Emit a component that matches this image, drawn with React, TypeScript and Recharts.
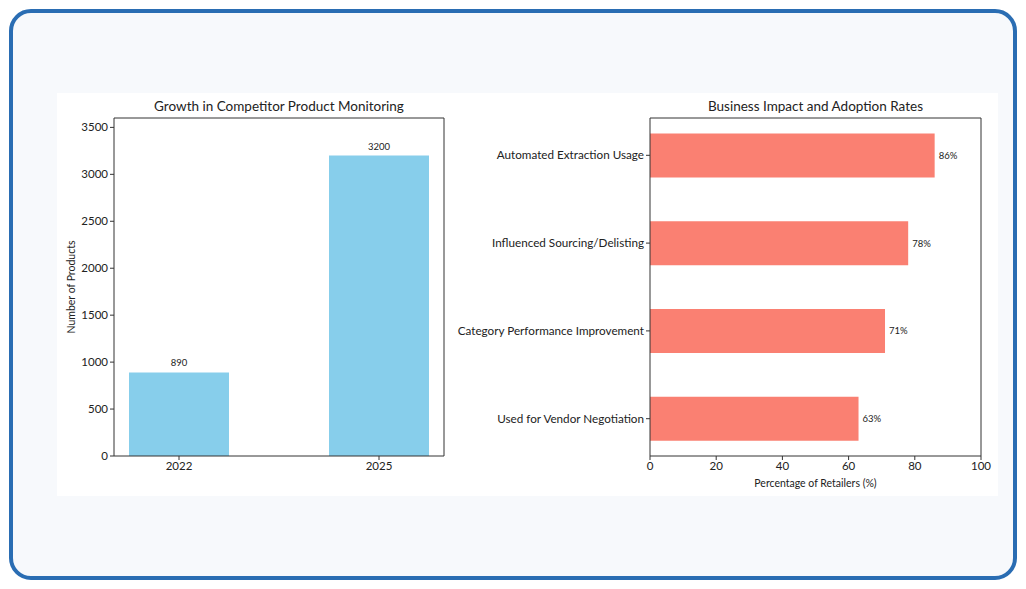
import { Bar, BarChart, LabelList, XAxis, YAxis } from "recharts";

const years = ["2022", "2025"];
const productCounts = [890, 3200];
const productTicks = [0, 500, 1000, 1500, 2000, 2500, 3000, 3500];

const impactCategories = [
  "Automated Extraction Usage",
  "Influenced Sourcing/Delisting",
  "Category Performance Improvement",
  "Used for Vendor Negotiation"
];
const impactRates = [86, 78, 71, 63];
const percentTicks = [0, 20, 40, 60, 80, 100];

const FONT = "Lato, 'Noto Sans', sans-serif";
const AXIS = "#333333";
const TEXT = "#222222";

const growthData = years.map((year, i) => ({ idx: i, year, count: productCounts[i] }));
const impactData = impactCategories.map((name, i) => ({ idx: i, name, rate: impactRates[i] }));

const tickStyle = { fontSize: 11.5, fill: TEXT, fontFamily: FONT };

// plain one-line tick so long category names don't wrap
const CategoryTick = (props: any) => {
  const { x, y, payload } = props;
  return (
    <text x={x} y={y} dy={4} textAnchor="end" fontSize={11.7} fill={TEXT} fontFamily={FONT}>
      {impactCategories[payload.value] ?? ""}
    </text>
  );
};

export default function App() {
  return (
    <div style={{ position: "absolute", left: 0, top: 0, width: 1026, height: 589, background: "#ffffff", fontFamily: FONT }}>
      <div
        style={{
          position: "absolute",
          left: 9,
          top: 9,
          width: 1008,
          height: 571,
          boxSizing: "border-box",
          border: "4px solid #2a6db3",
          borderRadius: 22,
          background: "#f7f9fc"
        }}
      />
      <div style={{ position: "absolute", left: 57, top: 93, width: 941, height: 403, background: "#ffffff" }} />

      <div style={{ position: "absolute", left: 114, width: 330, top: 98, textAlign: "center", fontSize: 13.5, color: TEXT }}>
        Growth in Competitor Product Monitoring
      </div>
      <div style={{ position: "absolute", left: 650, width: 331, top: 98, textAlign: "center", fontSize: 13.5, color: TEXT }}>
        Business Impact and Adoption Rates
      </div>

      <div style={{ position: "absolute", left: 57, top: 93 }}>
        <BarChart width={400} height={403} data={growthData} margin={{ top: 24, right: 12, bottom: 10, left: 0 }}>
          <XAxis
            dataKey="idx"
            type="number"
            domain={[-0.325, 1.325]}
            ticks={[0, 1]}
            tickFormatter={(v: number) => years[v] ?? ""}
            tick={tickStyle}
            stroke={AXIS}
            tickSize={4}
            height={30}
            allowDataOverflow
          />
          <XAxis xAxisId="top" orientation="top" type="number" domain={[0, 1]} tick={false} tickLine={false} stroke={AXIS} height={1} />
          <YAxis
            type="number"
            domain={[0, 3600]}
            ticks={productTicks}
            tick={tickStyle}
            stroke={AXIS}
            tickSize={4}
            width={57}
            label={{ value: "Number of Products", angle: -90, position: "insideLeft", offset: 14, style: { fontSize: 10.5, fill: TEXT, fontFamily: FONT, textAnchor: "middle" } }}
          />
          <YAxis yAxisId="right" orientation="right" type="number" domain={[0, 1]} tick={false} tickLine={false} stroke={AXIS} width={1} />
          <Bar dataKey="count" fill="#87ceeb" barSize={100} isAnimationActive={false}>
            <LabelList dataKey="count" position="top" offset={6} style={{ fontSize: 9.5, fill: TEXT, fontFamily: FONT }} />
          </Bar>
        </BarChart>
      </div>

      <div style={{ position: "absolute", left: 450, top: 93 }}>
        <BarChart width={548} height={403} data={impactData} layout="vertical" margin={{ top: 24, right: 16, bottom: 3, left: 0 }}>
          <XAxis
            type="number"
            dataKey="rate"
            domain={[0, 100]}
            ticks={percentTicks}
            tick={tickStyle}
            stroke={AXIS}
            tickSize={4}
            height={37}
            label={{ value: "Percentage of Retailers (%)", position: "insideBottom", offset: 6, style: { fontSize: 10.5, fill: TEXT, fontFamily: FONT } }}
          />
          <XAxis xAxisId="top" orientation="top" type="number" domain={[0, 1]} tick={false} tickLine={false} stroke={AXIS} height={1} />
          <YAxis
            type="number"
            dataKey="idx"
            domain={[-0.425, 3.425]}
            ticks={[0, 1, 2, 3]}
            tick={<CategoryTick />}
            stroke={AXIS}
            tickSize={4}
            width={200}
            allowDataOverflow
          />
          <YAxis yAxisId="right" orientation="right" type="number" domain={[0, 1]} tick={false} tickLine={false} stroke={AXIS} width={1} />
          <Bar dataKey="rate" fill="#fa8072" barSize={44} isAnimationActive={false}>
            <LabelList dataKey="rate" position="right" offset={4} formatter={(v: number) => `${v}%`} style={{ fontSize: 9.5, fill: TEXT, fontFamily: FONT }} />
          </Bar>
        </BarChart>
      </div>
    </div>
  );
}
